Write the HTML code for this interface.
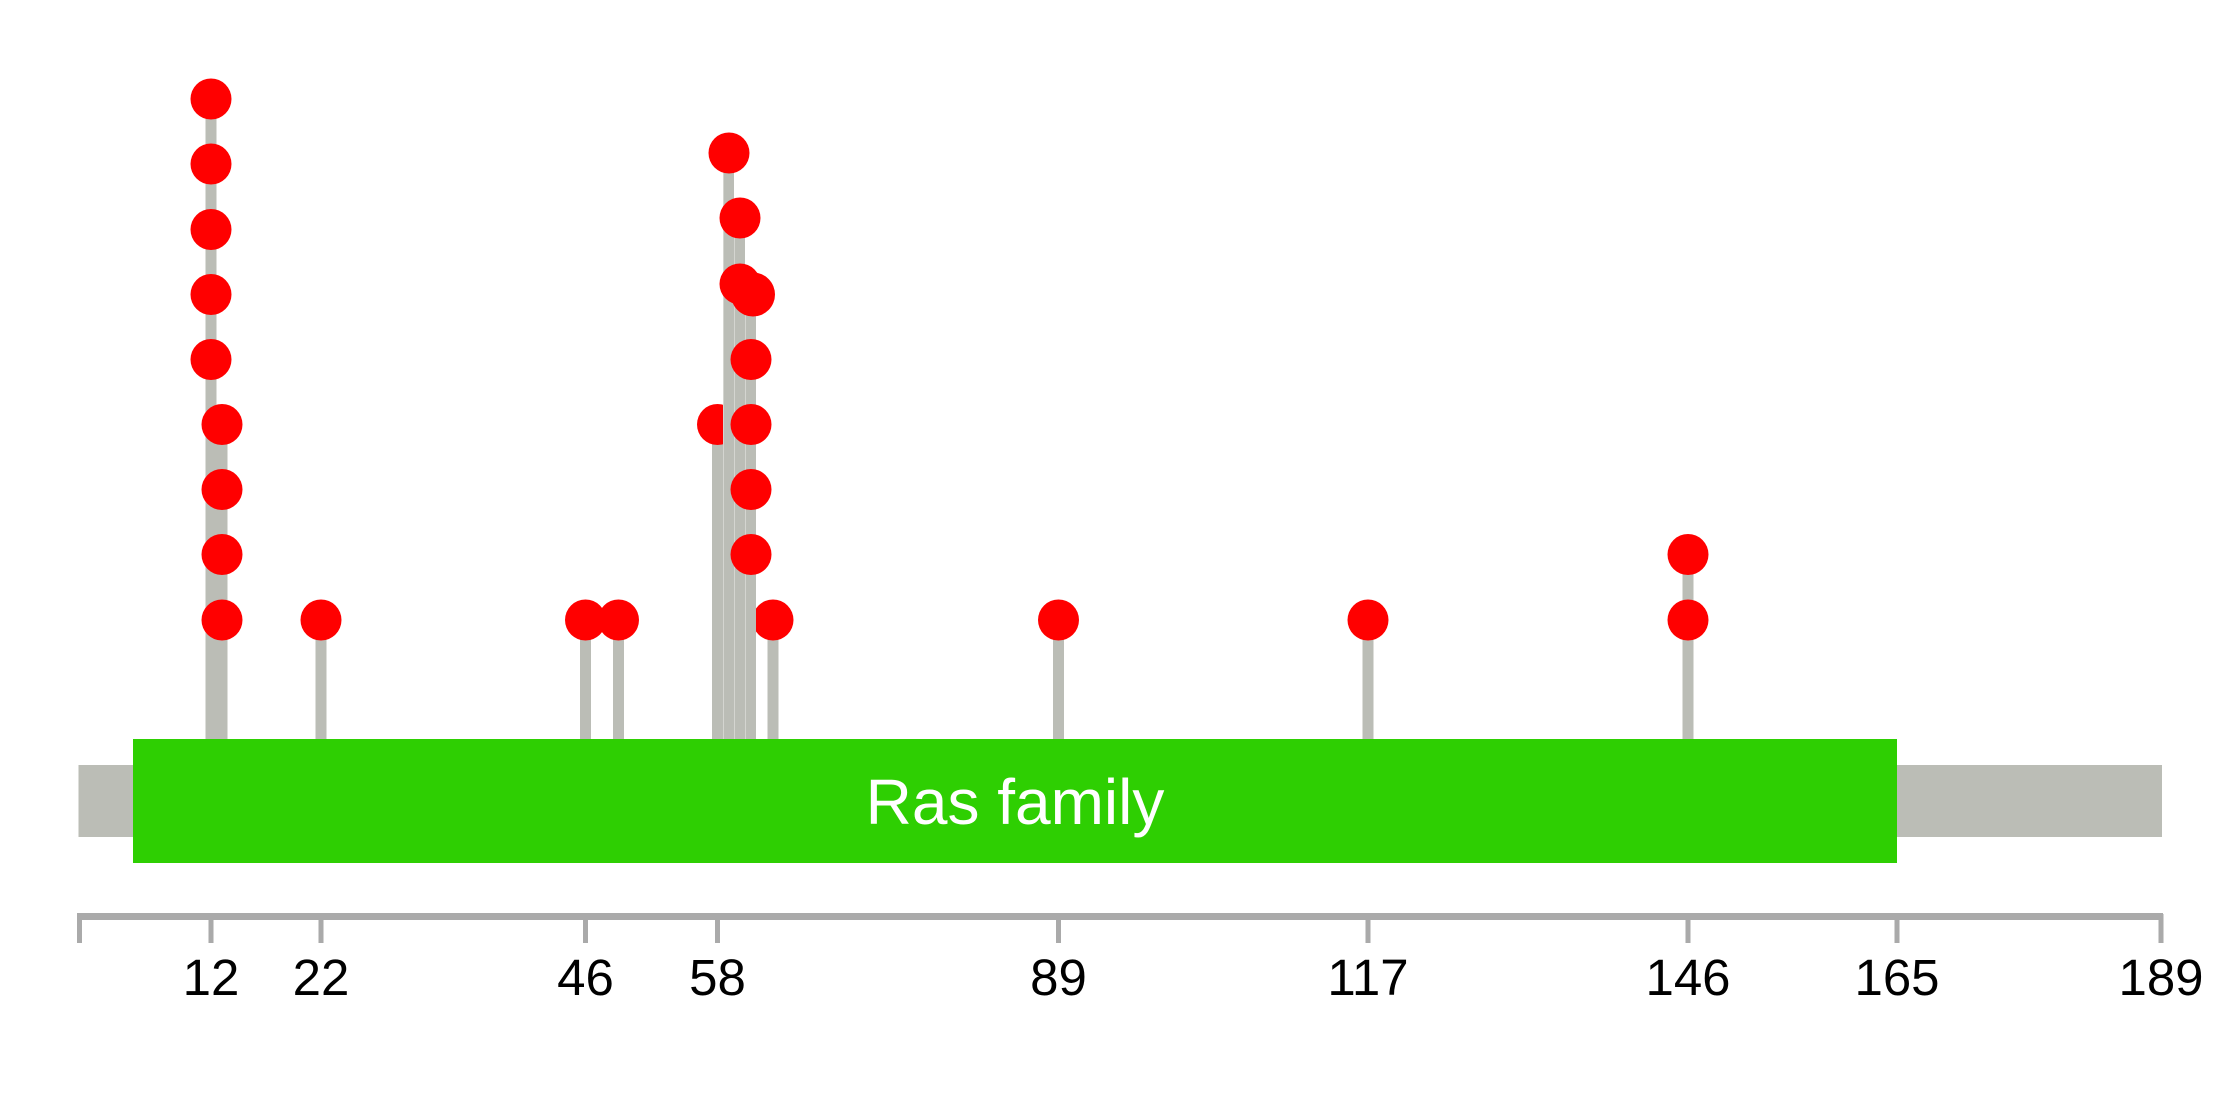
<!DOCTYPE html>
<html><head><meta charset="utf-8"><style>
html,body{margin:0;padding:0;background:#fff;}
svg{display:block;}
</style></head><body>
<svg width="2239" height="1098" viewBox="0 0 2239 1098" xmlns="http://www.w3.org/2000/svg">
<rect x="205.5" y="99" width="11" height="641" fill="#BBBDB6"/>
<g fill="#FF0000">
<circle cx="211" cy="99" r="20.5"/>
<circle cx="211" cy="164" r="20.5"/>
<circle cx="211" cy="229.5" r="20.5"/>
<circle cx="211" cy="294.5" r="20.5"/>
<circle cx="211" cy="359.5" r="20.5"/>
</g>
<rect x="216.5" y="424" width="11" height="316" fill="#BBBDB6"/>
<g fill="#FF0000">
<circle cx="222" cy="424.5" r="20.5"/>
<circle cx="222" cy="489.5" r="20.5"/>
<circle cx="222" cy="554.5" r="20.5"/>
<circle cx="222" cy="620" r="20.5"/>
</g>
<g fill="#BBBDB6">
<rect x="315.5" y="620" width="11" height="120"/>
<rect x="580" y="620" width="11" height="120"/>
<rect x="613" y="620" width="11" height="120"/>
<rect x="1053" y="620" width="11" height="120"/>
<rect x="1362.5" y="620" width="11" height="120"/>
<rect x="1682.5" y="554" width="11" height="186"/>
</g>
<g fill="#FF0000">
<circle cx="321" cy="620" r="20.5"/>
<circle cx="585.5" cy="620" r="20.5"/>
<circle cx="618.5" cy="620" r="20.5"/>
<circle cx="1058.5" cy="620" r="20.5"/>
<circle cx="1368" cy="620" r="20.5"/>
<circle cx="1688" cy="620" r="20.5"/>
<circle cx="1688" cy="554.5" r="20.5"/>
</g>
<rect x="767.5" y="620" width="11" height="120" fill="#BBBDB6"/>
<circle cx="773" cy="620" r="20.5" fill="#FF0000"/>
<rect x="712" y="424" width="11" height="316" fill="#BBBDB6"/>
<circle cx="717.5" cy="424.5" r="20.5" fill="#FF0000"/>
<rect x="723.5" y="153" width="10.5" height="587" fill="#BBBDB6"/>
<rect x="734.5" y="218" width="10.5" height="522" fill="#BBBDB6"/>
<rect x="745.5" y="294" width="10.5" height="446" fill="#BBBDB6"/>
<g fill="#D4D5D0">
<rect x="723" y="153" width="1" height="587"/>
<rect x="734" y="218" width="1" height="522"/>
<rect x="745" y="294" width="1" height="446"/>
</g>
<g fill="#FF0000">
<circle cx="729" cy="153" r="20.5"/>
<circle cx="740" cy="218" r="20.5"/>
<circle cx="753" cy="294.5" r="22"/>
<circle cx="740" cy="284" r="20.5"/>
<circle cx="751" cy="359.5" r="20.5"/>
<circle cx="751" cy="424.5" r="20.5"/>
<circle cx="751" cy="489.5" r="20.5"/>
<circle cx="751" cy="554.5" r="20.5"/>
</g>
<rect x="78.5" y="765" width="2083.5" height="72" fill="#BBBDB6"/>
<rect x="133" y="739" width="1764" height="124" fill="#2ECF02"/>
<text x="1015" y="824" font-family="Liberation Sans, sans-serif" font-size="64" fill="#fff" text-anchor="middle">Ras family</text>
<g stroke="#AAAAAA" stroke-width="5" fill="none">
<line x1="77" y1="916.5" x2="2163" y2="916.5" stroke-width="7"/>
<line x1="79.5" y1="914" x2="79.5" y2="943"/>
<line x1="211" y1="914" x2="211" y2="943"/>
<line x1="321" y1="914" x2="321" y2="943"/>
<line x1="585.5" y1="914" x2="585.5" y2="943"/>
<line x1="717.5" y1="914" x2="717.5" y2="943"/>
<line x1="1058.5" y1="914" x2="1058.5" y2="943"/>
<line x1="1368" y1="914" x2="1368" y2="943"/>
<line x1="1688" y1="914" x2="1688" y2="943"/>
<line x1="1897" y1="914" x2="1897" y2="943"/>
<line x1="2161" y1="914" x2="2161" y2="943"/>
</g>
<g font-family="Liberation Sans, sans-serif" font-size="51" fill="#000" text-anchor="middle">
<text x="211" y="995">12</text>
<text x="321" y="995">22</text>
<text x="585.5" y="995">46</text>
<text x="717.5" y="995">58</text>
<text x="1058.5" y="995">89</text>
<text x="1368" y="995">117</text>
<text x="1688" y="995">146</text>
<text x="1897" y="995">165</text>
<text x="2161" y="995">189</text>
</g>
</svg>
</body></html>
